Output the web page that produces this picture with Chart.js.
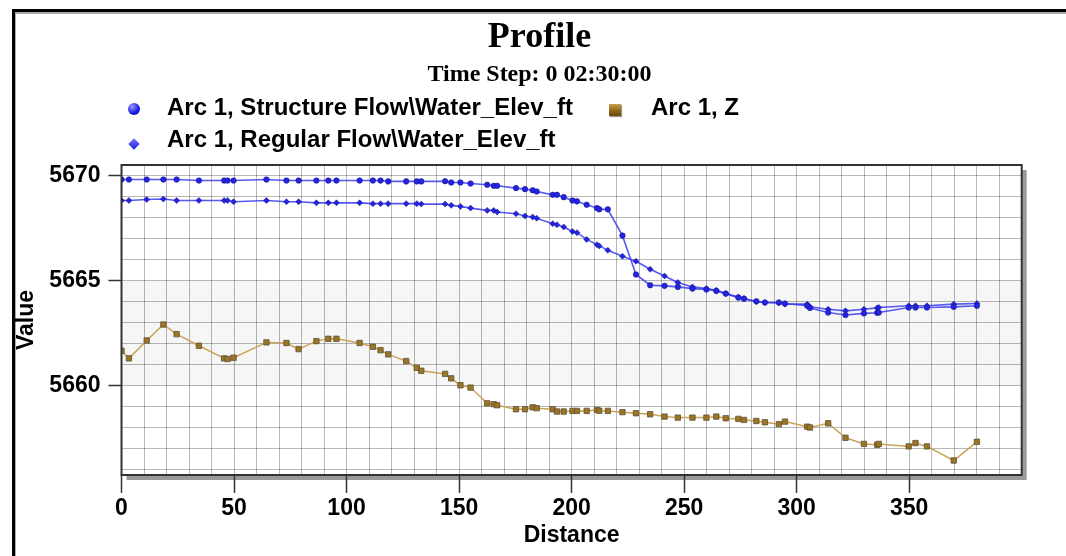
<!DOCTYPE html>
<html>
<head>
<meta charset="utf-8">
<script src="https://cdn.jsdelivr.net/npm/chart.js@4"></script>
<style>
  html, body { margin: 0; padding: 0; background: #fff; }
  #wrap { position: relative; width: 1066px; height: 556px; overflow: hidden; }
  #frame { position: absolute; left: 12px; top: 9px; width: 1100px; height: 600px;
           border-top: 3px solid #000; border-left: 3px solid #000; box-shadow: inset 1px 2px 0 #aaa; }
  canvas { position: absolute; left: 0; top: 0; }
  .head { position: absolute; left: 13px; width: 1053px; text-align: center;
          font-family: "Liberation Serif", "Times New Roman", serif; font-weight: bold; color: #000; }
  #title { top: 13px; font-size: 36px; line-height: 44px; }
  #sub { top: 58px; font-size: 24px; line-height: 30px; }
  .item { position: absolute; font: bold 24px "Liberation Sans", Arial, sans-serif; color: #000; line-height: 28px; white-space: nowrap; }
  .mk { position: absolute; }
</style>
</head>
<body>
<div id="wrap">
  <div id="frame"></div>
  <canvas id="profile" width="1066" height="556"></canvas>
  <div class="head" id="title">Profile</div>
  <div class="head" id="sub">Time Step: 0 02:30:00</div>
  <div id="legend"></div>
</div>
<script>
// distance along the arc (shared by all three series)
const distance = [0, 3.3, 11.2, 18.6, 24.5, 34.4, 45.6, 47.1, 49.8, 64.4,
  73.3, 78.7, 86.6, 91.9, 95.5, 105.8, 111.7, 115.1, 118.5, 126.5,
  131.2, 133.2, 143.8, 146.5, 150.6, 155.1, 162.5, 165.4, 166.9, 175.3,
  179.3, 182.7, 184.5, 191.6, 193.5, 196.5, 200.4, 202.4, 206.7, 211.3,
  212.3, 216.1, 222.6, 228.6, 234.9, 241.3, 247.2, 253.7, 259.9, 264.3,
  268.5, 274.1, 276.6, 282.1, 285.9, 292.1, 294.8, 304.7, 305.9, 314.0,
  321.7, 329.9, 335.8, 336.5, 349.8, 352.8, 357.9, 369.8, 380.1];

const structureFlow = [5669.81, 5669.81, 5669.81, 5669.81, 5669.81, 5669.76, 5669.76, 5669.76, 5669.76, 5669.81,
  5669.76, 5669.76, 5669.76, 5669.76, 5669.76, 5669.76, 5669.76, 5669.76, 5669.72, 5669.72,
  5669.72, 5669.72, 5669.73, 5669.67, 5669.67, 5669.62, 5669.56, 5669.51, 5669.51, 5669.40,
  5669.35, 5669.30, 5669.24, 5669.08, 5669.08, 5668.97, 5668.81, 5668.77, 5668.61, 5668.45,
  5668.39, 5668.39, 5667.14, 5665.29, 5664.78, 5664.75, 5664.70, 5664.62, 5664.58, 5664.51,
  5664.38, 5664.19, 5664.14, 5664.02, 5663.96, 5663.96, 5663.91, 5663.80, 5663.70, 5663.48,
  5663.36, 5663.44, 5663.47, 5663.48, 5663.72, 5663.72, 5663.72, 5663.75, 5663.80];

const regularFlow = [5668.81, 5668.81, 5668.86, 5668.88, 5668.81, 5668.81, 5668.81, 5668.81, 5668.75, 5668.81,
  5668.75, 5668.75, 5668.70, 5668.70, 5668.70, 5668.70, 5668.66, 5668.66, 5668.66, 5668.66,
  5668.66, 5668.64, 5668.64, 5668.58, 5668.53, 5668.45, 5668.34, 5668.34, 5668.26, 5668.18,
  5668.07, 5668.02, 5667.97, 5667.71, 5667.66, 5667.55, 5667.34, 5667.28, 5666.96, 5666.71,
  5666.65, 5666.44, 5666.16, 5665.92, 5665.54, 5665.22, 5664.91, 5664.70, 5664.62, 5664.54,
  5664.38, 5664.22, 5664.14, 5663.99, 5663.96, 5663.94, 5663.88, 5663.88, 5663.75, 5663.64,
  5663.56, 5663.64, 5663.70, 5663.72, 5663.80, 5663.80, 5663.80, 5663.88, 5663.91];

const bedZ = [5661.66, 5661.30, 5662.15, 5662.91, 5662.45, 5661.90, 5661.30, 5661.27, 5661.33, 5662.06,
  5662.03, 5661.74, 5662.12, 5662.23, 5662.23, 5662.03, 5661.85, 5661.69, 5661.49, 5661.17,
  5660.85, 5660.71, 5660.56, 5660.35, 5660.02, 5659.91, 5659.16, 5659.12, 5659.07, 5658.88,
  5658.88, 5658.97, 5658.93, 5658.88, 5658.77, 5658.77, 5658.80, 5658.80, 5658.80, 5658.85,
  5658.81, 5658.80, 5658.74, 5658.69, 5658.64, 5658.53, 5658.48, 5658.48, 5658.48, 5658.53,
  5658.45, 5658.42, 5658.37, 5658.32, 5658.26, 5658.17, 5658.29, 5658.05, 5658.01, 5658.21,
  5657.52, 5657.23, 5657.19, 5657.23, 5657.11, 5657.27, 5657.11, 5656.44, 5657.33];

const seriesLabels = ["Arc 1, Structure Flow\\Water_Elev_ft", "Arc 1, Regular Flow\\Water_Elev_ft", "Arc 1, Z"];
const xTickLabels = [0, 50, 100, 150, 200, 250, 300, 350];
const yTickLabels = [5660, 5665, 5670];
const bandRange = [5660, 5665];

const pts = (vals) => distance.map((d, i) => ({ x: d, y: vals[i] }));
const axisFont = { family: "'Liberation Sans', Arial, sans-serif", weight: "bold", size: 23 };

// plot background: drop shadow, white area, shaded band; border on top afterwards
const plotFrame = {
  id: "plotFrame",
  beforeDraw(chart) {
    const { ctx, chartArea: a, scales } = chart;
    ctx.save();
    ctx.fillStyle = "#9a9a9a";
    ctx.fillRect(a.left + 5, a.top + 5, a.width, a.height);
    ctx.fillStyle = "#fff";
    ctx.fillRect(a.left, a.top, a.width, a.height);
    const y1 = scales.y.getPixelForValue(bandRange[1]);
    const y0 = scales.y.getPixelForValue(bandRange[0]);
    ctx.fillStyle = "#f6f6f6";
    ctx.fillRect(a.left, y1, a.width, y0 - y1);
    ctx.restore();
  },
  afterDraw(chart) {
    const { ctx, chartArea: a } = chart;
    ctx.save();
    ctx.strokeStyle = "#333";
    ctx.lineWidth = 2;
    ctx.strokeRect(a.left, a.top, a.width, a.height);
    ctx.restore();
  },
};

const chart = new Chart(document.getElementById("profile"), {
  type: "line",
  data: {
    datasets: [
      {
        label: seriesLabels[0],
        data: pts(structureFlow),
        borderColor: "rgba(60,60,240,0.85)",
        borderWidth: 1.6,
        backgroundColor: "#2323e0",
        pointBorderColor: "#15158a",
        pointBorderWidth: 0.5,
        pointStyle: "circle",
        pointRadius: 2.8,
        tension: 0,
      },
      {
        label: seriesLabels[1],
        data: pts(regularFlow),
        borderColor: "rgba(60,60,240,0.85)",
        borderWidth: 1.6,
        backgroundColor: "#2323e0",
        pointBorderColor: "#15158a",
        pointBorderWidth: 0.5,
        pointStyle: "rectRot",
        pointRadius: 3,
        tension: 0,
      },
      {
        label: seriesLabels[2],
        data: pts(bedZ),
        borderColor: "#c8a457",
        borderWidth: 1.5,
        backgroundColor: "#9c7522",
        pointBorderColor: "#5e5038",
        pointBorderWidth: 0.8,
        pointStyle: "rect",
        pointRadius: 3.8,
        tension: 0,
      },
    ],
  },
  options: {
    responsive: false,
    animation: false,
    layout: { padding: { top: 165, right: 44.3, left: 0, bottom: 0 } },
    plugins: { legend: { display: false }, tooltip: { enabled: false } },
    scales: {
      x: {
        type: "linear",
        min: 0,
        max: 400,
        afterFit: (s) => { s.height = 81; },
        ticks: {
          stepSize: 10,
          autoSkip: false,
          includeBounds: false,
          maxRotation: 0,
          padding: 2,
          color: "#000",
          font: axisFont,
          callback: (v) => (xTickLabels.includes(v) ? String(v) : ""),
        },
        grid: {
          color: "rgba(0,0,0,0.28)",
          tickLength: 18,
          tickWidth: 1.5,
          tickColor: (c) => (c.tick && xTickLabels.includes(c.tick.value) ? "#333" : "rgba(0,0,0,0)"),
        },
        border: { display: false },
        title: { display: true, text: "Distance", color: "#000", font: axisFont, padding: { top: 7, bottom: 7 } },
      },
      y: {
        type: "linear",
        min: 5655.75,
        max: 5670.5,
        afterFit: (s) => { s.width = 121.5; },
        ticks: {
          stepSize: 1,
          autoSkip: false,
          includeBounds: false,
          padding: 8,
          color: "#000",
          font: axisFont,
          callback: (v) => (yTickLabels.includes(v) ? String(v) : ""),
        },
        grid: {
          color: "rgba(0,0,0,0.28)",
          tickLength: 13,
          tickWidth: 1.5,
          tickColor: (c) => (c.tick && yTickLabels.includes(c.tick.value) ? "#333" : "rgba(0,0,0,0)"),
        },
        border: { display: false },
        title: { display: true, text: "Value", color: "#000", font: axisFont, padding: { top: 13, bottom: 13 } },
      },
    },
  },
  plugins: [plotFrame],
});

// legend laid out like the original: two items on the first row, one below
const legendSpots = [
  { mx: 134, my: 109, tx: 167, ty: 93, shape: "circle" },
  { mx: 134, my: 144, tx: 167, ty: 125, shape: "diamond" },
  { mx: 615, my: 110, tx: 651, ty: 93, shape: "square" },
];
const legend = document.getElementById("legend");
chart.data.datasets.forEach((ds, i) => {
  const s = legendSpots[i];
  const mk = document.createElement("div");
  mk.className = "mk";
  if (s.shape === "circle") {
    Object.assign(mk.style, { left: s.mx - 6 + "px", top: s.my - 6 + "px", width: "12px", height: "12px",
      borderRadius: "50%", background: "radial-gradient(circle at 35% 30%, #9a9aff, #1414e6 60%, #0a0aa0)" });
  } else if (s.shape === "diamond") {
    Object.assign(mk.style, { left: s.mx - 4 + "px", top: s.my - 4 + "px", width: "8px", height: "8px",
      transform: "rotate(45deg)", background: "linear-gradient(135deg, #7a7aff, #1818d8)" });
  } else {
    Object.assign(mk.style, { left: s.mx - 6 + "px", top: s.my - 6 + "px", width: "12px", height: "12px",
      background: "linear-gradient(180deg, #caa050, #8a6412 60%, #6a4c10)", boxShadow: "1px 1px 1px #999" });
  }
  legend.appendChild(mk);
  const tx = document.createElement("div");
  tx.className = "item";
  tx.style.left = s.tx + "px";
  tx.style.top = s.ty + "px";
  tx.textContent = ds.label;
  legend.appendChild(tx);
});
</script>
</body>
</html>
